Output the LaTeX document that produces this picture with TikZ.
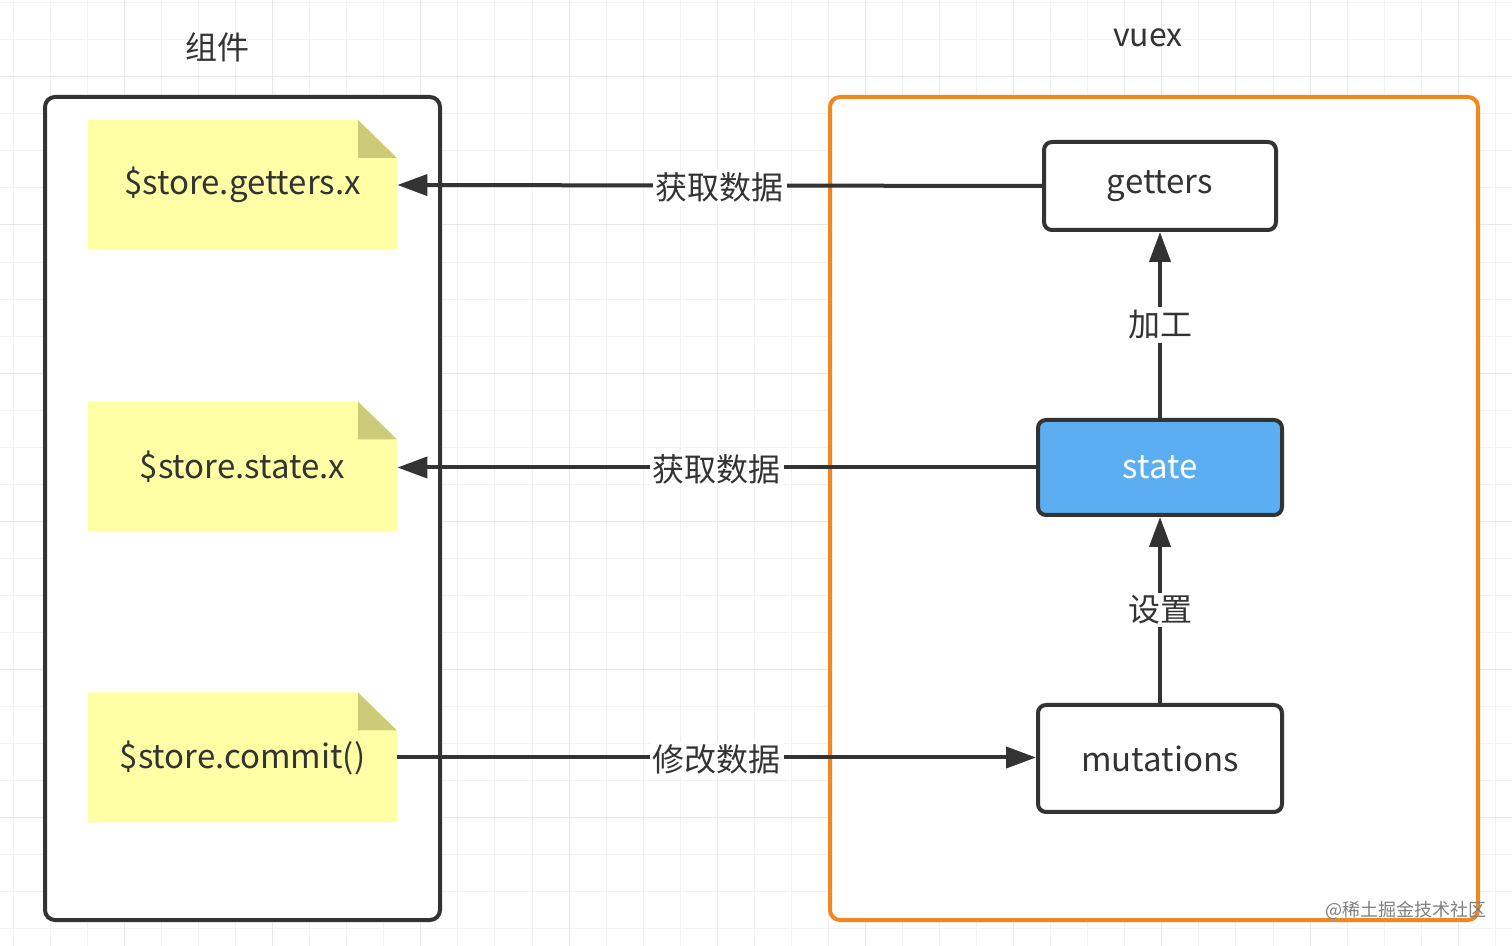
\documentclass[tikz,border=0pt]{standalone}
\usepackage{fontspec}
\setmainfont{Noto Sans CJK SC}
\usepackage{xcolor}
\usetikzlibrary{arrows.meta}

\definecolor{darkline}{HTML}{333333}
\definecolor{textgray}{HTML}{333333}
\definecolor{notefill}{HTML}{FFFFA6}
\definecolor{foldfill}{HTML}{CCCC78}
\definecolor{vuexorange}{HTML}{F2871F}
\definecolor{stateblue}{HTML}{5CAEF2}
\definecolor{gridminor}{HTML}{F2F2F2}
\definecolor{gridmajor}{HTML}{E8E8E8}

\begin{document}
\begin{tikzpicture}[x = 0.5pt, y = -0.5pt,
		box/.style = {draw = darkline, line width = 2pt, rounded corners = 4pt, fill = white, text = textgray, font = \fontsize{16.5}{18}\selectfont},
		note/.style = {minimum width = 154.5pt, minimum height = 65pt, inner sep = 0pt, text = textgray, font = \fontsize{16.5}{18}\selectfont},
		lbl/.style = {fill = white, inner sep = 1.5pt, text = textgray, font = \fontsize{16}{18}\selectfont},
		flow/.style = {draw = darkline, line width = 2pt, -{Triangle[length = 15pt, width = 10.5pt]}}]
		\useasboundingbox (0,0) rectangle (1512,946);
		\fill[white] (0,0) rectangle (1512,946);
		% grid
		\foreach \x in {13.3,50.35,...,1512}{
			\draw[gridminor, line width = 0.5pt] (\x,0) -- (\x,946);
			}
		\foreach \y in {2.7,39.75,...,946}{
			\draw[gridminor, line width = 0.5pt] (0,\y) -- (1512,\y);
			}
		\foreach \x in {124.45,272.65,...,1512}{
			\draw[gridmajor, line width = 0.5pt] (\x,0) -- (\x,946);
			}
		\foreach \y in {76.8,225,...,946}{
			\draw[gridmajor, line width = 0.5pt] (0,\y) -- (1512,\y);
			}
		% frames
		\draw[darkline, line width = 2pt, rounded corners = 5pt, fill = white] (45,97) rectangle (440,920);
		\draw[vuexorange, line width = 2pt, rounded corners = 5pt, fill = white] (830,97) rectangle (1478,920);
		\node[text = textgray, font = \fontsize{16}{18}\selectfont] (comp) at (217,47) {组件};
		\node[text = textgray, font = \fontsize{16}{18}\selectfont] (vuex) at (1148,38) {vuex};
		% notes
		\foreach \y/\name/\txt in {185/get/{\$store.getters.x}, 466.5/sta/{\$store.state.x}, 757.5/com/{\$store.commit()}}{
			\fill[notefill] (88,\y-65) -- (358,\y-65) -- (397,\y-27) -- (397,\y+65) -- (88,\y+65) -- cycle;
			\fill[foldfill] (358,\y-65) -- (397,\y-27) -- (358,\y-27) -- cycle;
			\node[note] (\name) at (242.5,\y) {\txt};
			}
		% vuex parts
		\node[box, minimum width = 116pt, minimum height = 44pt] (getters) at (1160,186) {getters};
		\node[box, minimum width = 122pt, minimum height = 47.5pt, fill = stateblue, text = white] (state) at (1160,467.5) {state};
		\node[box, minimum width = 122pt, minimum height = 53.5pt] (mutations) at (1160,758.5) {mutations};
		% connectors
		\draw[flow] (getters.west) -- (get.east) node[lbl, midway, yshift = -1pt] (l1) {获取数据};
		\draw[flow] (state.west) -- (sta.east |- state.west) node[lbl, midway, yshift = -1pt] (l2) {获取数据};
		\draw[flow] (com.east) -- (com.east -| mutations.west) node[lbl, midway, yshift = -1pt] (l3) {修改数据};
		\draw[flow] (state.north) -- (getters.south) node[lbl, midway] (l4) {加工};
		\draw[flow] (mutations.north) -- (state.south) node[lbl, midway] (l5) {设置};
		\node[text = gray, font = \fontsize{9}{10}\selectfont] (mark) at (1406,910) {@稀土掘金技术社区};
	\end{tikzpicture}
\end{document}
